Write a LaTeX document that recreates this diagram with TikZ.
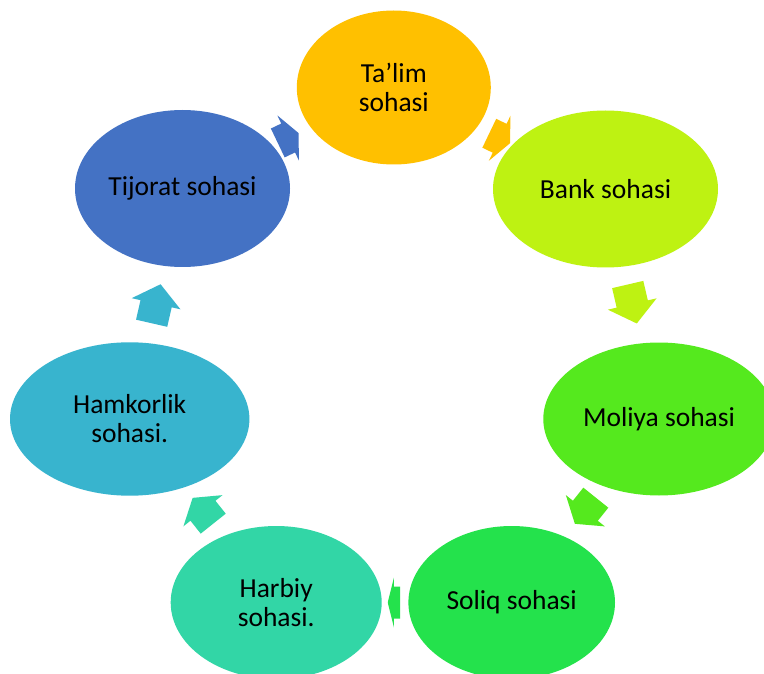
\documentclass[tikz,border=0pt]{standalone}
\usepackage{fontspec}
\setmainfont{Carlito}
\usetikzlibrary{shapes.geometric,calc}
\definecolor{cTalim}{HTML}{FFC000}
\definecolor{cBank}{HTML}{BEF212}
\definecolor{cMoliya}{HTML}{55E91E}
\definecolor{cSoliq}{HTML}{24E24C}
\definecolor{cHarbiy}{HTML}{32D6A6}
\definecolor{cHamkor}{HTML}{38B4CE}
\definecolor{cTijorat}{HTML}{4472C4}
\tikzset{
  sector/.style={ellipse, draw=none, fill=#1, inner sep=0pt, align=center,
    font=\fontsize{27.5}{29}\selectfont, text=black},
  pics/cycarrow/.style={code={%
    \fill[pic actions] ({-#1/2},-16) -- (0,-16) -- (0,-25) -- ({#1/2},0)
      -- (0,25) -- (0,16) -- ({-#1/2},16) -- cycle;}},
  flow/.style={pos=0.5, sloped, allow upside down, fill=#1},
}
\begin{document}
\begin{tikzpicture}[x=1pt, y=-1pt]
\useasboundingbox (0,0) rectangle (764,674);
\clip (0,0) rectangle (764,674);
\fill[white] (0,0) rectangle (764,674);
\node[sector=cTalim,  minimum width=194pt,   minimum height=154pt] (tal) at (393.8,87.5) {Ta’lim\\sohasi};
\node[sector=cBank,   minimum width=225pt,   minimum height=157pt] (bank) at (605.5,189) {Bank sohasi};
\node[sector=cMoliya, minimum width=231.4pt, minimum height=153pt] (mol) at (659,419) {Moliya sohasi};
\node[sector=cSoliq,  minimum width=206.6pt, minimum height=153pt] (sol) at (511.7,602.5) {Soliq sohasi};
\node[sector=cHarbiy, minimum width=211pt,   minimum height=153pt] (har) at (276.2,602.5) {Harbiy\\sohasi.};
\node[sector=cHamkor, minimum width=239.4pt, minimum height=153.4pt] (ham) at (129.7,419) {Hamkorlik\\sohasi.};
\node[sector=cTijorat,minimum width=215pt,   minimum height=157pt] (tij) at (182.5,188.5) {Tijorat sohasi};
\path (tij.center) -- pic[flow=cTijorat] {cycarrow=23} (tal.center);
\path (tal.center) -- pic[flow=cTalim] {cycarrow=23} (bank.center);
\path (bank.center) -- pic[flow=cBank] {cycarrow=40} (mol.center);
\path (mol.center) -- pic[flow=cMoliya] {cycarrow=33.5} (sol.center);
\path (sol.center) -- pic[flow=cSoliq] {cycarrow=12.4} (har.center);
\path (har.center) -- pic[flow=cHarbiy] {cycarrow=33} (ham.center);
\path (ham.center) -- pic[flow=cHamkor] {cycarrow=40} (tij.center);
\end{tikzpicture}
\end{document}
